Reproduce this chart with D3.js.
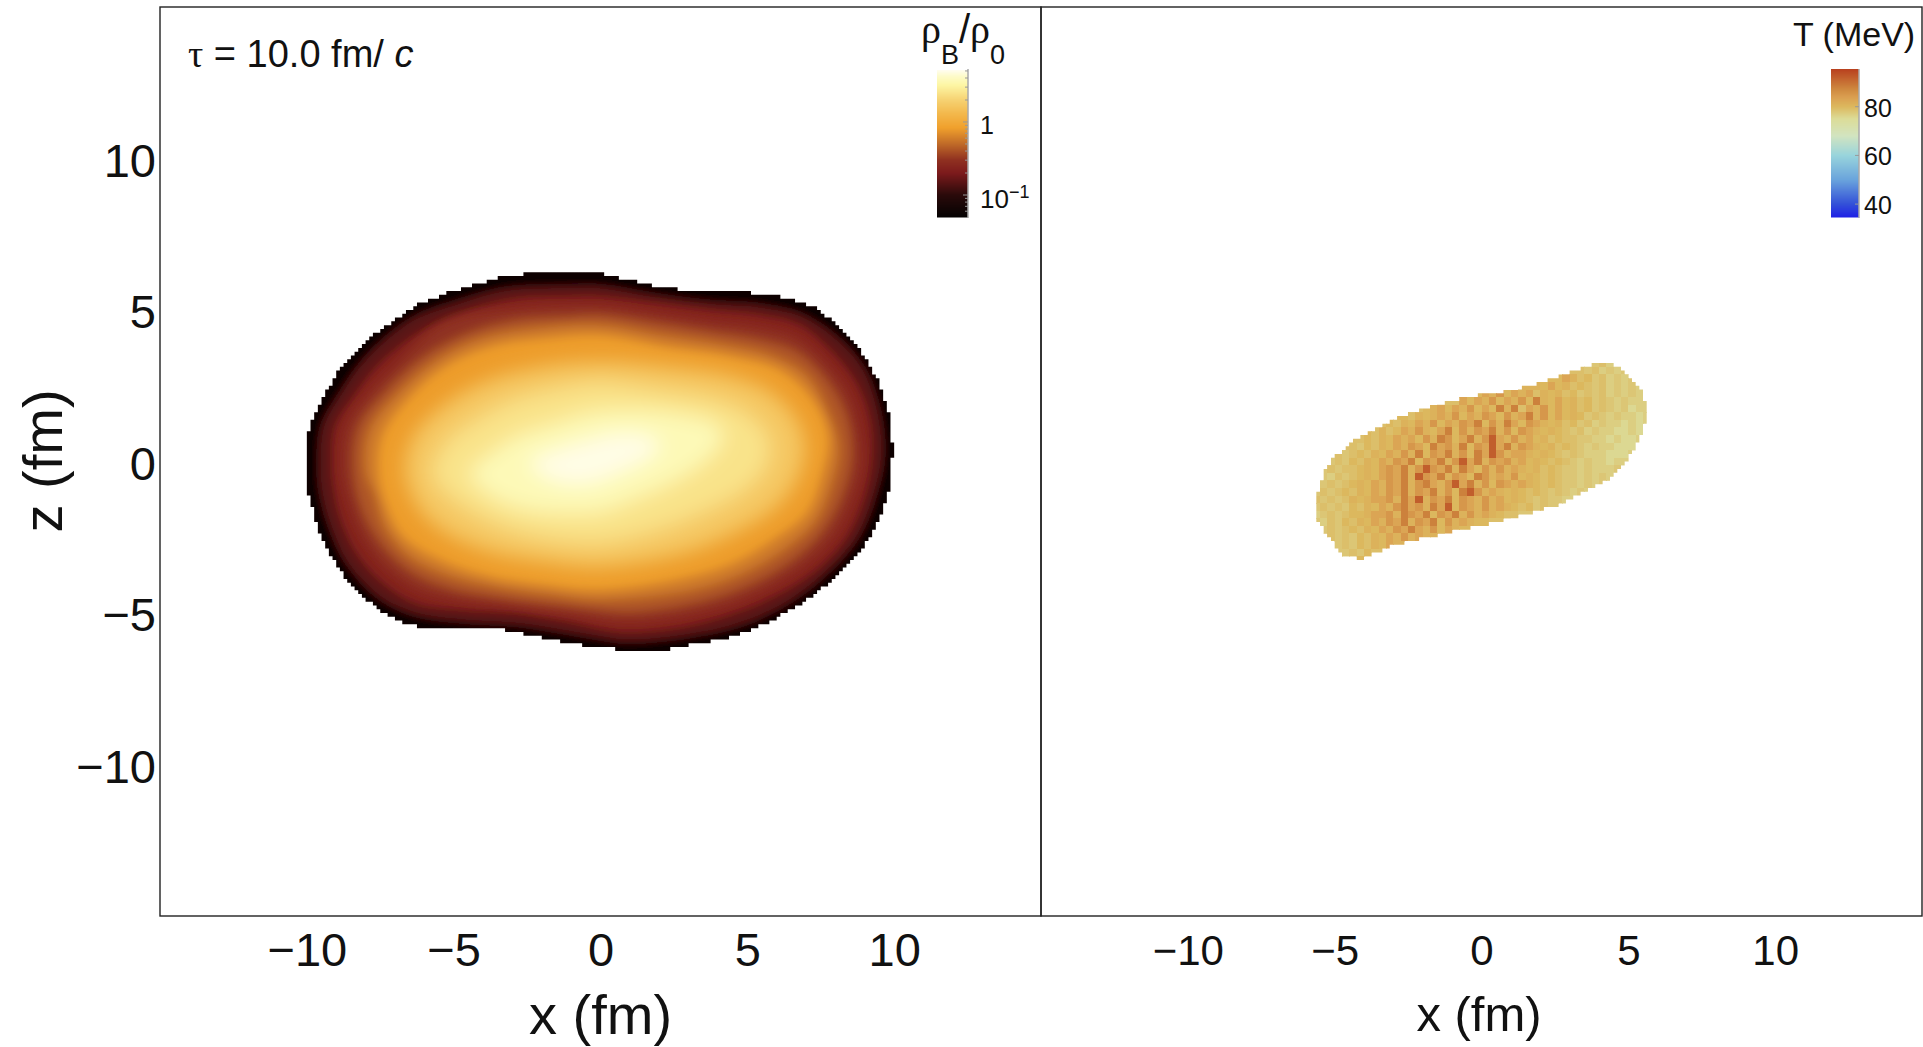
<!DOCTYPE html>
<html><head><meta charset="utf-8">
<script src="https://cdn.jsdelivr.net/npm/d3@7"></script>
<style>
html,body{margin:0;padding:0;background:#fff;}
svg{display:block;}
text{font-family:"Liberation Sans",Arial,sans-serif;fill:#111;}
</style></head><body>
<script>
// ---- data -----------------------------------------------------------------
const densityLevels=[0.1,0.2,0.3,0.45,0.6,0.83,1.4,2.1,3.2,4.5];
const densityBandValues=[0.15,0.23,0.3,0.42,0.58,0.8,1.7,2.5,3.7,4.9];
const densityEdge=[[-10.06,0.16],[-10.0,0.82],[-9.72,1.59],[-9.26,2.41],[-8.98,2.96],[-8.47,3.46],[-7.85,4.12],[-7.16,4.56],[-6.26,5.16],[-5.24,5.55],[-4.1,5.88],[-3.31,6.12],[-2.4,6.21],[-1.15,6.21],[-0.02,6.21],[0.89,6.01],[1.91,5.79],[3.39,5.58],[4.98,5.58],[6.11,5.46],[7.25,5.11],[7.93,4.61],[8.72,3.84],[9.4,2.8],[9.8,1.7],[9.95,0.49],[9.92,-0.5],[9.74,-1.27],[9.4,-2.15],[8.84,-3.03],[7.93,-3.91],[7.02,-4.57],[5.77,-5.29],[4.52,-5.78],[3.39,-6.0],[2.25,-6.2],[0.89,-6.22],[-0.24,-6.11],[-1.04,-6.0],[-2.17,-5.78],[-3.31,-5.56],[-4.67,-5.54],[-5.58,-5.56],[-6.48,-5.4],[-7.28,-5.07],[-7.96,-4.57],[-8.64,-3.91],[-9.26,-3.03],[-9.61,-2.26],[-9.83,-1.49],[-10.0,-0.83],[-10.06,-0.28]];
const contour010=[[-9.6,-0.17],[-9.49,1.15],[-8.87,2.25],[-8.02,3.4],[-6.48,4.67],[-4.89,5.27],[-3.19,5.71],[-1.15,5.79],[-0.02,5.79],[1.91,5.49],[3.73,5.27],[5.43,5.16],[6.9,4.83],[8.15,4.01],[9.0,3.02],[9.51,1.59],[9.63,0.16],[9.34,-1.16],[8.78,-2.48],[7.81,-3.58],[6.45,-4.63],[4.75,-5.4],[2.93,-5.78],[0.89,-5.95],[-0.02,-5.84],[-1.04,-5.67],[-2.85,-5.4],[-4.67,-5.29],[-6.26,-5.07],[-7.5,-4.52],[-8.64,-3.36],[-9.26,-2.04],[-9.55,-0.94]];
const contour020=[[-9.15,-0.17],[-9.04,1.15],[-8.41,2.14],[-7.5,3.24],[-6.03,4.34],[-4.44,5.0],[-2.85,5.38],[-1.15,5.44],[-0.02,5.44],[1.91,5.22],[3.73,5.0],[5.43,4.83],[6.79,4.5],[7.93,3.57],[8.72,2.58],[9.17,1.37],[9.23,0.05],[8.95,-1.27],[8.38,-2.48],[7.47,-3.47],[6.11,-4.35],[4.52,-5.01],[2.82,-5.45],[0.89,-5.62],[-0.02,-5.51],[-1.04,-5.29],[-2.85,-5.01],[-4.67,-4.9],[-6.26,-4.68],[-7.39,-4.02],[-8.3,-3.03],[-8.87,-1.82],[-9.09,-0.83]];
const contour030=[[-8.8,-0.2],[-8.65,1.15],[-7.9,2.25],[-6.8,3.35],[-5.3,4.6],[-2.85,5.05],[-0.02,5.12],[1.91,4.88],[3.73,4.63],[5.43,4.42],[6.75,4.05],[7.8,3.13],[8.55,2.03],[8.9,0.1],[8.6,-1.2],[8.0,-2.37],[7.1,-3.3],[5.65,-4.2],[3.95,-4.85],[1,-5.3],[-1.3,-5.0],[-3.1,-4.77],[-5,-4.55],[-6.3,-4.2],[-7.4,-3.4],[-8.2,-2.3],[-8.6,-1.2]];
const contour045=[[-8.41,-0.28],[-8.24,1.15],[-7.28,2.36],[-6.03,3.46],[-4.55,4.23],[-2.85,4.67],[-1.15,4.78],[-0.02,4.83],[1.91,4.56],[3.73,4.28],[5.43,4.01],[6.68,3.62],[7.7,2.69],[8.38,1.48],[8.55,0.16],[8.21,-1.16],[7.59,-2.26],[6.68,-3.14],[5.2,-4.02],[3.39,-4.63],[1.12,-4.96],[-0.02,-4.9],[-1.49,-4.74],[-3.31,-4.52],[-5.12,-4.19],[-6.37,-3.69],[-7.39,-2.81],[-8.07,-1.71]];
const contour060=[[-8,-0.3],[-7.85,1.05],[-6.75,2.4],[-5.5,3.4],[-4.1,4.05],[-2.4,4.37],[-0.02,4.5],[2.1,4.17],[4.1,3.87],[5.8,3.5],[7,2.85],[7.7,1.75],[8.1,0.5],[7.85,-0.8],[7.3,-2],[6.3,-2.87],[4.85,-3.7],[3.1,-4.25],[-0.02,-4.57],[-1.7,-4.4],[-3.5,-4.15],[-5.3,-3.72],[-6.55,-3.1],[-7.35,-2.15],[-7.7,-1.1]];
const contour083=[[-7.56,-0.39],[-7.39,0.93],[-6.14,2.47],[-4.89,3.35],[-3.53,3.84],[-1.94,4.06],[-0.02,4.17],[2.25,3.79],[4.52,3.46],[6.11,3.02],[7.24,2.03],[7.76,0.82],[7.53,-0.5],[7.02,-1.71],[5.88,-2.59],[4.52,-3.36],[2.82,-3.86],[-0.02,-4.24],[-1.94,-4.08],[-3.76,-3.8],[-5.46,-3.25],[-6.71,-2.48],[-7.28,-1.49]];
const contour140=[[-6.65,-0.39],[-6.37,0.82],[-5.24,1.92],[-3.76,2.69],[-1.94,3.13],[-0.02,3.29],[2.25,3.13],[4.29,2.85],[5.66,2.36],[6.62,1.48],[6.96,0.49],[6.68,-0.61],[5.99,-1.49],[4.75,-2.26],[2.82,-3.03],[-0.02,-3.47],[-1.94,-3.31],[-3.76,-2.98],[-5.24,-2.37],[-6.14,-1.6]];
const contour210=[[-5.69,-0.39],[-5.24,0.6],[-4.21,1.37],[-2.85,2.03],[-1.26,2.41],[-0.02,2.58],[2.25,2.3],[3.84,2.03],[5.09,1.48],[5.71,0.71],[5.6,-0.17],[4.86,-0.94],[3.39,-1.71],[1.68,-2.32],[-0.02,-2.65],[-1.72,-2.54],[-3.31,-2.15],[-4.55,-1.55],[-5.35,-0.94]];
const contour320=[[-4.44,-0.39],[-3.87,0.16],[-2.85,0.82],[-1.49,1.26],[-0.35,1.59],[1.12,1.7],[2.82,1.53],[3.84,1.26],[4.18,0.82],[3.73,0.16],[2.59,-0.61],[1.12,-1.27],[-0.02,-1.66],[-0.92,-1.71],[-2.4,-1.6],[-3.65,-1.16]];
const contour450=[[-2.4,-0.06],[-1.49,0.38],[-0.35,0.71],[0.66,0.93],[1.68,0.82],[2.02,0.49],[1.34,-0.06],[0.32,-0.5],[-0.35,-0.72],[-1.49,-0.67]];
const densityContours=[contour010,contour020,contour030,contour045,contour060,contour083,contour140,contour210,contour320,contour450];

const tempEdge=[[-5.67,-1.55],[-5.56,-0.99],[-5.33,-0.28],[-5.05,0.1],[-4.48,0.6],[-3.8,1.0],[-3.0,1.37],[-1.98,1.75],[-1.07,1.97],[-0.28,2.17],[0.18,2.22],[1.09,2.36],[1.88,2.55],[2.56,2.8],[3.24,3.02],[3.81,3.21],[4.49,3.24],[4.94,2.91],[5.4,2.41],[5.57,1.97],[5.6,1.42],[5.4,0.76],[4.94,0.0],[4.38,-0.56],[3.36,-1.1],[2.45,-1.49],[1.43,-1.77],[0.29,-2.04],[-0.16,-2.15],[-1.07,-2.32],[-1.98,-2.54],[-3.0,-2.76],[-3.8,-3.09],[-4.14,-3.22],[-4.7,-3.09],[-5.27,-2.43],[-5.56,-1.99]];
const tempLevels=[75.5,77,78,79,80,81,83,85,88,92];
const tempRowZ=[3.25,3,2.75,2.5,2.25,2,1.75,1.5,1.25,1,0.75,0.5,0.25,0,-0.25,-0.5,-0.75,-1,-1.25,-1.5,-1.75,-2,-2.25,-2.5,-2.75,-3,-3.25];
const tempRowStart=[38,36,33,30,22,19,14,12,9,7,6,5,3,2,1,1,0,0,0,0,0,0,1,2,3,4,5];
const tempRows=[
"2312",
"32312121",
"465342312121",
"5464534323121211",
"465746563545342323121211",
"364657465748546453423212111",
"34564657464858365746453423212011",
"4354565746576475685746454232121101",
"3435465746576847586476545342312110101",
"435346575468475768574765454323121100101",
"3435465647587468579657564534332211010011",
"3243546576486758476968576545343212110001",
"323435465758476857486975665454323211100012",
"232435465768476857968576756454343212110112",
"232334546768579768586475756545343221211121",
"21323454676859768576487565745434322121212",
"3232345465768578657968574765654343221212",
"23234354657685768574897565454343232121",
"32323545667586957684765756454323221",
"232324354657867586947657565434232",
"12323445667587684768575654332",
"2132435465768576847565443",
"23234354657686574654",
"32324354657565",
"232435465",
"23243",
"242"
];
const xTicks=[-10,-5,0,5,10];
const zTicks=[-10,-5,0,5,10];
const densityBarTicks=[0.06,0.07,0.08,0.09,0.1,0.2,0.3,0.4,0.5,0.6,0.7,0.8,0.9,1,2,3,4,5];
const densityStopValues=[0.05,0.1,0.2,0.3,0.5,0.83,1.3,2,3.2,4.2,5.15];
const densityStopColors=["#050202","#2a0a0a","#7c1a1c","#8f3020","#c06a28","#f0a02c","#f3b84c","#f6d272","#fdf6a4","#fdfbc8","#fffdf0"];
const tempBarTicks=[40,60,80];
const tempStopValues=[34.7,40,50,60,68,75,80,84,87,95.5];
const tempStopColors=["#1f22e6","#3350d8","#6aa4dc","#98d4dc","#d2e4c0","#dcdc98","#dcb85e","#da9e50","#cf8a40","#b8401e"];

// ---- layout --------------------------------------------------------------
const W=1923,H=1047,yTop=7,yBot=916,x0=160,xm=1041,x1=1922;
const svg=d3.select("body").append("svg").attr("width",W).attr("height",H);
const defs=svg.append("defs");
const xL=d3.scaleLinear().domain([-15,15]).range([x0,xm]);
const xR=d3.scaleLinear().domain([-15,15]).range([xm,x1]);
const zS=d3.scaleLinear().domain([-15,15]).range([yBot,yTop]);
const rhoC=d3.scaleLog().domain(densityStopValues).range(densityStopColors).interpolate(d3.interpolateRgb);
const tC=d3.scaleLinear().domain(tempStopValues).range(tempStopColors).interpolate(d3.interpolateRgb);
const cell=0.125;

function stairPath(poly,xs){
  const xe=d3.extent(poly,d=>d[0]), ze=d3.extent(poly,d=>d[1]);
  let s="";
  for(let i=Math.floor(xe[0]/cell);i<=Math.ceil(xe[1]/cell);i++){
    for(let j=Math.floor(ze[0]/cell);j<=Math.ceil(ze[1]/cell);j++){
      const xa=i*cell,za=j*cell;
      if(d3.polygonContains(poly,[xa+cell/2,za+cell/2])){
        const X0=xs(xa),X1=xs(xa+cell),Y0=zS(za+cell),Y1=zS(za);
        s+=`M${X0} ${Y0}H${X1}V${Y1}H${X0}Z`;
      }
    }
  }
  return s;
}
function softFilter(id,sigma){
  defs.append("filter").attr("id",id).attr("filterUnits","userSpaceOnUse")
    .attr("x",x0).attr("y",yTop).attr("width",xm-x0).attr("height",yBot-yTop)
    .append("feGaussianBlur").attr("stdDeviation",sigma);
}

// ---- left: density field ---------------------------------------------------
defs.append("clipPath").attr("id","rhoMask").append("path").attr("d",stairPath(densityEdge,xL));
softFilter("softRim",3.5);
softFilter("softMid",5);
softFilter("softCore",10);
const rhoClip=svg.append("g").attr("clip-path","url(#rhoMask)");
const lineL=d3.line().x(d=>xL(d[0])).y(d=>zS(d[1])).curve(d3.curveCatmullRomClosed);
const bands=densityContours.map((c,i)=>({c,i}));
function bandGroup(filterId,from,to,base){
  const g=rhoClip.append("g").attr("filter",`url(#${filterId})`);
  if(base) g.append("rect").attr("x",x0).attr("y",yTop).attr("width",xm-x0).attr("height",yBot-yTop).attr("fill",rhoC(0.055));
  g.selectAll("path").data(bands.slice(from,to)).join("path")
    .attr("d",d=>lineL(d.c)).attr("fill",d=>rhoC(densityBandValues[d.i]));
}
bandGroup("softRim",0,2,true);
bandGroup("softMid",2,6,false);
bandGroup("softCore",6,10,false);

// ---- right: temperature cells ----------------------------------------------
defs.append("clipPath").attr("id","tMask").append("path").attr("d",stairPath(tempEdge,xR));
const tG=svg.append("g").attr("clip-path","url(#tMask)").attr("shape-rendering","crispEdges");
function tCell(col,z,digit){
  const xa=-5.75+col*0.25;
  tG.append("rect").attr("x",xR(xa)).attr("y",zS(z+0.125))
    .attr("width",xR(xa+0.25)-xR(xa)+0.5).attr("height",zS(z-0.125)-zS(z+0.125)+0.5)
    .attr("fill",tC(tempLevels[digit]));
}
tempRows.forEach((row,r)=>{
  const z=tempRowZ[r], st=tempRowStart[r];
  row.split("").forEach((ch,k)=>tCell(st+k,z,+ch));
  // the outline may reach one or two cells past the typed ends of a row
  const first=+row[0], last=+row[row.length-1];
  [st-2,st-1].forEach(c=>tCell(c,z,first));
  [st+row.length,st+row.length+1].forEach(c=>tCell(c,z,last));
});

// ---- frames ---------------------------------------------------------------
svg.append("rect").attr("x",x0).attr("y",yTop).attr("width",xm-x0).attr("height",yBot-yTop)
  .attr("fill","none").attr("stroke","#222").attr("stroke-width",1.4);
svg.append("rect").attr("x",xm).attr("y",yTop).attr("width",x1-xm).attr("height",yBot-yTop)
  .attr("fill","none").attr("stroke","#222").attr("stroke-width",1.4);

// ---- axes -----------------------------------------------------------------
const fmt=d=>d<0?"\u2212"+Math.abs(d):""+d;
const axL=svg.append("g").attr("transform",`translate(0,${yBot})`)
  .call(d3.axisBottom(xL).tickValues(xTicks).tickFormat(fmt).tickSize(0).tickPadding(17));
axL.select(".domain").remove();
axL.selectAll("text").attr("font-size",47).attr("fill","#111").attr("font-family","Liberation Sans");
const axR=svg.append("g").attr("transform",`translate(0,${yBot})`)
  .call(d3.axisBottom(xR).tickValues(xTicks).tickFormat(fmt).tickSize(0).tickPadding(19));
axR.select(".domain").remove();
axR.selectAll("text").attr("font-size",42).attr("fill","#111").attr("font-family","Liberation Sans");
const ayL=svg.append("g").attr("transform",`translate(${x0},2.5)`)
  .call(d3.axisLeft(zS).tickValues(zTicks).tickFormat(fmt).tickSize(0).tickPadding(4));
ayL.select(".domain").remove();
ayL.selectAll("text").attr("font-size",47).attr("fill","#111").attr("font-family","Liberation Sans");

svg.append("text").attr("x",600.5).attr("y",1034).attr("text-anchor","middle").attr("font-size",56).text("x (fm)");
svg.append("text").attr("x",1479).attr("y",1031).attr("text-anchor","middle").attr("font-size",49).text("x (fm)");
svg.append("text").attr("transform","translate(62,461) rotate(-90)").attr("text-anchor","middle").attr("font-size",56).text("z (fm)");

// ---- time label -----------------------------------------------------------
const tl=svg.append("text").attr("x",188).attr("y",67).attr("font-size",38);
tl.append("tspan").attr("font-family","Liberation Serif").text("\u03C4");
tl.append("tspan").text(" = 10.0 fm/ ");
tl.append("tspan").attr("font-style","italic").text("c");

// ---- colour bars ----------------------------------------------------------
const rhoBar=d3.scaleLog().domain([0.05,5.15]).range([217,70]);
const rhoSteps=d3.range(70,217);
svg.append("g").selectAll("rect").data(rhoSteps).join("rect")
  .attr("x",937).attr("width",31).attr("y",d=>d).attr("height",1.5)
  .attr("fill",d=>rhoC(rhoBar.invert(d+0.5)));
svg.append("line").attr("x1",968).attr("x2",968).attr("y1",69).attr("y2",218).attr("stroke","#aaa").attr("stroke-width",1.5);
svg.append("g").selectAll("line").data(densityBarTicks).join("line")
  .attr("x1",d=>(d===1||d===0.1)?963:965).attr("x2",968)
  .attr("y1",d=>rhoBar(d)).attr("y2",d=>rhoBar(d)).attr("stroke","#999").attr("stroke-width",1);
svg.append("text").attr("x",980).attr("y",134).attr("font-size",25).text("1");
const tenth=svg.append("text").attr("x",980).attr("y",208).attr("font-size",26);
tenth.append("tspan").text("10");
tenth.append("tspan").attr("font-size",18).attr("dy",-10).text("\u22121");

const rhoT=svg.append("text").attr("x",921).attr("y",43).attr("font-size",40);
rhoT.append("tspan").attr("font-family","Liberation Serif").text("\u03C1");
rhoT.append("tspan").attr("font-size",27).attr("dy",21).text("B");
rhoT.append("tspan").attr("dy",-21).attr("font-size",40).text("/");
rhoT.append("tspan").attr("font-family","Liberation Serif").text("\u03C1");
rhoT.append("tspan").attr("font-size",27).attr("dy",21).text("0");

const tBar=d3.scaleLinear().domain([34.7,95.5]).range([217,69]);
const tSteps=d3.range(69,217);
svg.append("g").selectAll("rect").data(tSteps).join("rect")
  .attr("x",1831).attr("width",28).attr("y",d=>d).attr("height",1.5)
  .attr("fill",d=>tC(tBar.invert(d+0.5)));
svg.append("line").attr("x1",1859).attr("x2",1859).attr("y1",69).attr("y2",218).attr("stroke","#aaa").attr("stroke-width",1.5);
svg.append("g").selectAll("line").data(tempBarTicks).join("line")
  .attr("x1",1855).attr("x2",1859).attr("y1",d=>tBar(d)).attr("y2",d=>tBar(d)).attr("stroke","#999");
svg.append("g").selectAll("text").data(tempBarTicks).join("text")
  .attr("x",1864).attr("y",d=>tBar(d)+10).attr("font-size",25).text(d=>d);
svg.append("text").attr("x",1793).attr("y",46).attr("font-size",34).text("T (MeV)");
</script>
</body></html>
